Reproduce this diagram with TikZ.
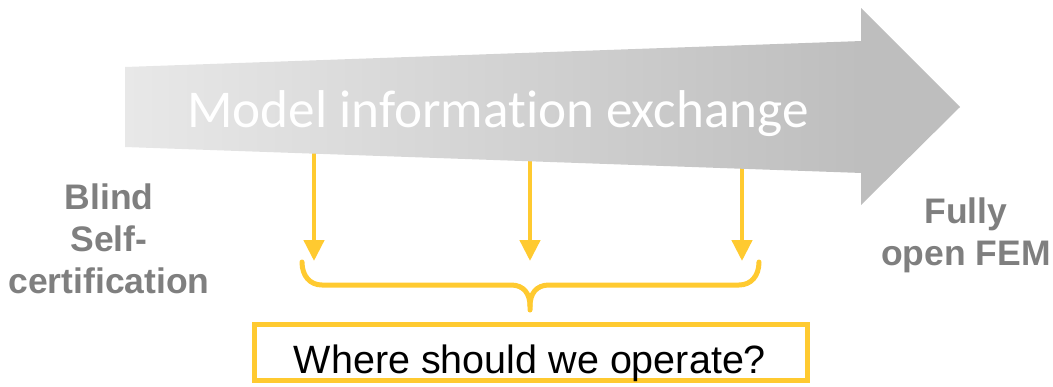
\documentclass[tikz,border=0pt]{standalone}
\usepackage{fontspec}
\setmainfont{Liberation Sans}
\newfontfamily\bannerfont[Ligatures=NoCommon]{Carlito}
\usetikzlibrary{arrows.meta}
\definecolor{gold}{HTML}{FFCA30}
\definecolor{sidegray}{HTML}{7F7F7F}
\definecolor{bodylight}{HTML}{E8E8E8}
\definecolor{bodydark}{HTML}{BEBEBE}

\begin{document}
\begin{tikzpicture}[x=1pt,y=-1pt,
  feed/.style={draw=gold, line width=4.5pt, -{Triangle[width=20pt,length=21pt]}},
  sidelabel/.style={text=sidegray, font=\fontsize{35.5}{42}\selectfont\bfseries, align=center, inner sep=0pt, anchor=north},
  brace/.style={draw=gold, line width=5pt, line cap=round, line join=round}
]
\useasboundingbox (0,0) rectangle (1053,386);

% feeds from the banner down to the brace
\coordinate (f1s) at (314,140);
\coordinate (f2s) at (530,140);
\coordinate (f3s) at (742,140);
\coordinate (f1e) at (314,261);
\coordinate (f2e) at (530,261);
\coordinate (f3e) at (742,261);
\draw[feed] (f1s) -- (f1e);
\draw[feed] (f2s) -- (f2e);
\draw[feed] (f3s) -- (f3e);

% banner arrow: widening shaded body plus solid head
\shade[left color=bodylight, right color=bodydark]
  (125,67) -- (862,41) -- (862,173) -- (125,147) -- cycle;
\fill[bodydark] (861,41) -- (861,8) -- (960,107) -- (861,205) -- (861,173) -- cycle;
\node[text=white, font=\bannerfont\fontsize{53.2}{54}\selectfont, anchor=base, inner sep=0pt]
  (banner) at (498,127) {Model information exchange};

% brace gathering the three feeds
\coordinate (bl) at (302,262);
\coordinate (br) at (759,262);
\coordinate (bm) at (530,310);
\draw[brace] (bl) .. controls (302,276) and (310,285) .. (322,285)
  -- (511,285) .. controls (524,285) and (530,294) .. (530,306) -- (bm);
\draw[brace] (br) .. controls (759,276) and (751,285) .. (739,285)
  -- (549,285) .. controls (536,285) and (530,294) .. (530,306);

% question box
\node[draw=gold, line width=5pt, minimum width=553pt, minimum height=56pt, inner sep=0pt]
  (qbox) at (531,352) {};
\node[font=\fontsize{39.5}{40}\selectfont, anchor=base, inner sep=0pt]
  (question) at (530,373) {Where should we operate?};

% end-point labels
\node[sidelabel] (left) at (109,184) {Blind\\Self-\\certification};
\node[sidelabel] (right) at (966,198) {Fully\\open FEM};
\end{tikzpicture}
\end{document}
